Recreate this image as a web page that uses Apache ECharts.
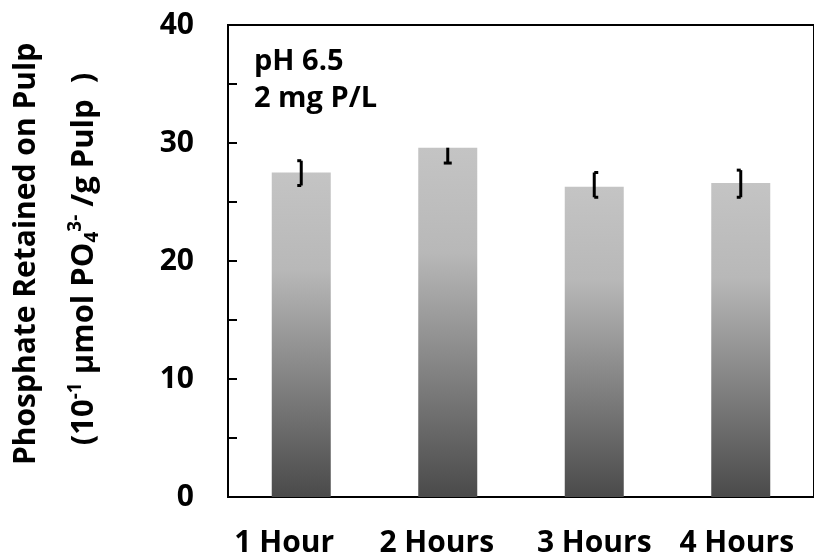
<!DOCTYPE html>
<html>
<head>
<meta charset="utf-8">
<script src="https://cdn.jsdelivr.net/npm/echarts@6/dist/echarts.min.js"></script>
<style>
  html, body { margin: 0; padding: 0; background: #fff; }
  #chart { width: 814px; height: 559px; }
</style>
</head>
<body>
<div id="chart"></div>
<script>
const categories = ['1 Hour', '2 Hours', '3 Hours', '4 Hours'];
const values = [27.5, 29.6, 26.3, 26.6];
const errLow = [26.4, 28.3, 25.4, 25.4];
const errHigh = [28.5, 29.6, 27.5, 27.7];
const capSide = [-1, 0, 1, -1];
const yMin = 0, yMax = 40, yStep = 10;

const FONT = '"Open Sans", "Liberation Sans", sans-serif';
const chart = echarts.init(document.getElementById('chart'), null, { renderer: 'canvas' });

const labelRich = {
  l0: { padding: [0, 34, 0, 0] },
  l1: { padding: [0, 22, 0, 0] },
  l2: { padding: [0, 0, 0, 0] },
  l3: { padding: [0, 8, 6, 0] }
};
Object.keys(labelRich).forEach(k => Object.assign(labelRich[k], {
  fontFamily: FONT, fontWeight: 'bold', fontSize: 30, color: '#000'
}));

const option = {
  animation: false,
  backgroundColor: '#fff',
  grid: {
    left: 228, top: 25, bottom: 62, width: 596,
    show: true, borderColor: '#000', borderWidth: 2, backgroundColor: 'transparent'
  },
  xAxis: {
    type: 'category',
    data: categories,
    axisLine: { show: true, lineStyle: { color: '#000', width: 2 } },
    axisTick: { show: false },
    axisLabel: {
      margin: 31,
      formatter: (v, i) => '{l' + i + '|' + v + '}',
      rich: labelRich
    },
    splitLine: { show: false }
  },
  yAxis: {
    type: 'value',
    min: yMin, max: yMax, interval: yStep,
    axisLine: { show: true, lineStyle: { color: '#000', width: 2 } },
    axisTick: { show: true, inside: true, length: 9, lineStyle: { color: '#000', width: 2 } },
    minorTick: { show: true, splitNumber: 2, length: 9, lineStyle: { color: '#000', width: 2 } },
    axisLabel: { margin: 34, fontFamily: FONT, fontWeight: 'bold', fontSize: 30, color: '#000' },
    splitLine: { show: false }
  },
  series: [
    {
      type: 'bar',
      data: values,
      barWidth: 59,
      itemStyle: {
        color: new echarts.graphic.LinearGradient(0, 0, 0, 1, [
          { offset: 0, color: '#c4c4c4' },
          { offset: 0.3, color: '#b8b8b8' },
          { offset: 1, color: '#4a4a4a' }
        ])
      },
      z: 2
    },
    {
      type: 'custom',
      data: values.map((v, i) => [i, errLow[i], errHigh[i]]),
      z: 5,
      renderItem: function (params, api) {
        const i = api.value(0);
        const lo = api.coord([i, api.value(1)]);
        const hi = api.coord([i, api.value(2)]);
        const x = lo[0];
        const side = capSide[i];
        const cap = 4;
        const st = { stroke: '#000', lineWidth: 3 };
        const children = [
          { type: 'line', shape: { x1: x, y1: hi[1], x2: x, y2: lo[1] }, style: st }
        ];
        if (side === 0) {
          children.push({ type: 'line', shape: { x1: x - cap, y1: lo[1], x2: x + cap, y2: lo[1] }, style: st });
        } else {
          const dx = side * cap;
          children.push({ type: 'line', shape: { x1: x, y1: hi[1], x2: x + dx, y2: hi[1] }, style: st });
          children.push({ type: 'line', shape: { x1: x, y1: lo[1], x2: x + dx, y2: lo[1] }, style: st });
        }
        return { type: 'group', children: children };
      }
    }
  ],
  graphic: [
    {
      type: 'text',
      x: 26, y: 254,
      rotation: Math.PI / 2,
      style: {
        text: 'Phosphate Retained on Pulp',
        fontFamily: FONT, fontWeight: 'bold', fontSize: 30, fill: '#000',
        align: 'center', verticalAlign: 'middle'
      }
    },
    {
      type: 'text',
      x: 84, y: 259,
      rotation: Math.PI / 2,
      style: {
        text: '(10{sup|-1} μmol PO{sub|4}{sup|3-} /g Pulp  )',
        fontFamily: FONT, fontWeight: 'bold', fontSize: 31, fill: '#000',
        align: 'center', verticalAlign: 'middle',
        rich: {
          sup: { fontFamily: FONT, fontWeight: 'bold', fontSize: 19, verticalAlign: 'top', lineHeight: 36, fill: '#000' },
          sub: { fontFamily: FONT, fontWeight: 'bold', fontSize: 19, verticalAlign: 'bottom', lineHeight: 36, fill: '#000' }
        }
      }
    },
    {
      type: 'text',
      x: 254, y: 43,
      style: {
        text: 'pH 6.5\n2 mg P/L',
        fontFamily: FONT, fontWeight: 'bold', fontSize: 29, lineHeight: 37, fill: '#000'
      }
    }
  ]
};
chart.setOption(option);
</script>
</body>
</html>
